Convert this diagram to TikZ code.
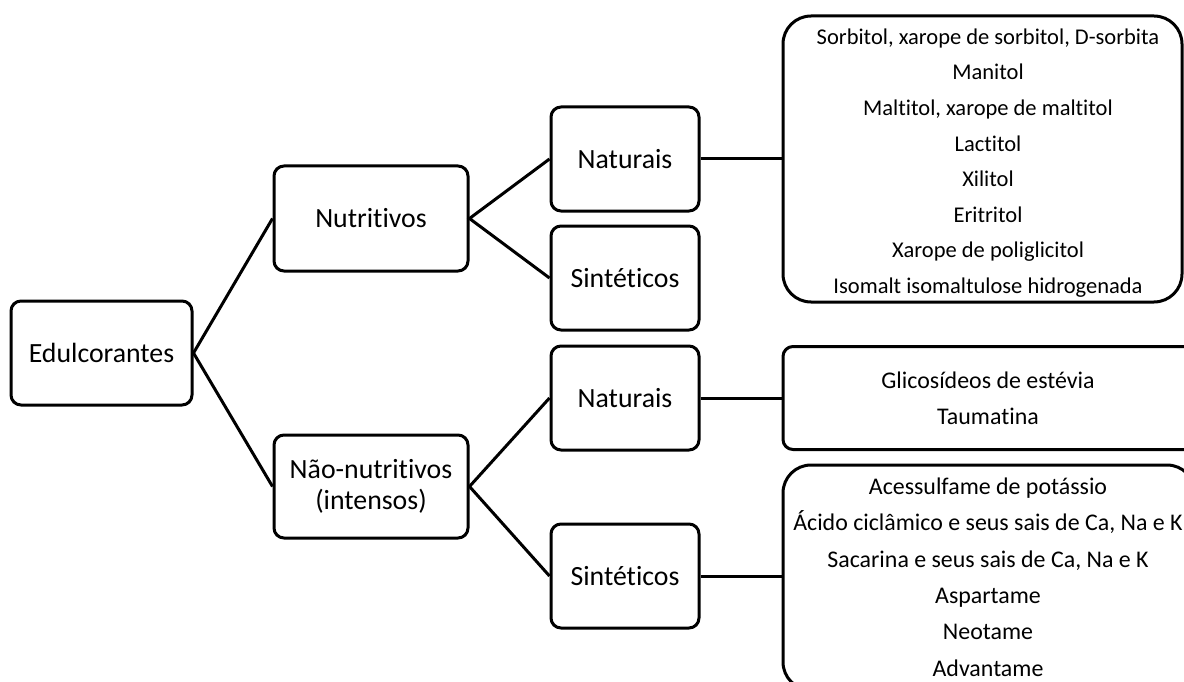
\documentclass[tikz,border=0pt]{standalone}
\usepackage{fontspec}
\setmainfont{Carlito}[Ligatures={NoCommon}]
\begin{document}
\begin{tikzpicture}[x=1pt,y=-1pt,line width=3pt,
  box/.style={draw, rounded corners=10pt, inner sep=0pt, align=center,
    font=\fontsize{27.8}{31}\selectfont},
  listbox/.style={draw, inner sep=0pt},
  listtext/.style={inner sep=0pt, align=center},
  conn/.style={line width=3pt}]
\useasboundingbox (0,0) rectangle (1184,682);
\clip (0,0) rectangle (1184,682);
\fill[white] (0,0) rectangle (1184,682);
\node[box, minimum width=181, minimum height=104] (edul) at (101.5,353) {Edulcorantes};
\node[box, minimum width=194, minimum height=105] (nutr) at (371,218.5) {Nutritivos};
\node[box, minimum width=194, minimum height=103] (nnut) at (371,486.5) {Não-nutritivos\\(intensos)};
\node[box, minimum width=148, minimum height=104] (nat1) at (625,159) {Naturais};
\node[box, minimum width=148, minimum height=104] (sin1) at (625,278) {Sintéticos};
\node[box, minimum width=148, minimum height=104] (nat2) at (625,398) {Naturais};
\node[box, minimum width=148, minimum height=104] (sin2) at (625,576) {Sintéticos};
\node[listbox, rounded corners=28pt, minimum width=399, minimum height=286] (list1) at (982.5,159) {};
\node[listtext, font=\fontsize{22.5}{35.6}\selectfont] (list1t) at (988,163)
  {Sorbitol, xarope de sorbitol, D-sorbita\\Manitol\\Maltitol, xarope de maltitol\\Lactitol\\Xilitol\\Eritritol\\Xarope de poliglicitol\\Isomalt isomaltulose hidrogenada};
\node[listbox, rounded corners=10pt, minimum width=412, minimum height=103] (list2) at (989,398) {};
\node[listtext, font=\fontsize{23.9}{36}\selectfont] (list2t) at (988,398)
  {Glicosídeos de estévia\\Taumatina};
\node[listbox, rounded corners=28pt, minimum width=412, minimum height=225] (list3) at (989,577.5) {};
\node[listtext, font=\fontsize{23.9}{36.4}\selectfont] (list3t) at (988,577)
  {Acessulfame de potássio\\Ácido ciclâmico e seus sais de Ca, Na e K\\Sacarina e seus sais de Ca, Na e K\\Aspartame\\Neotame\\Advantame};
\draw[conn] (nutr.west) -- (edul.east) -- (nnut.west);
\draw[conn] (nat1.west) -- (nutr.east) -- (sin1.west);
\draw[conn] (nat2.west) -- (nnut.east) -- (sin2.west);
\draw[conn] (nat1.east) -- (list1.west);
\draw[conn] (nat2.east) -- (list2.west);
\draw[conn] (sin2.east) -- (sin2.east -| list3.west);
\end{tikzpicture}
\end{document}
